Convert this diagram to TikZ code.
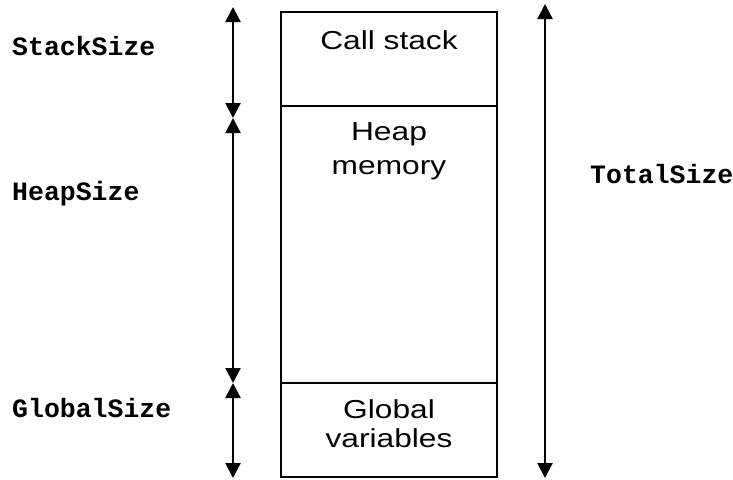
\documentclass[tikz,border=0pt]{standalone}
\usepackage{fontspec}
\newfontfamily\blockfont[FakeStretch=1.22]{Liberation Sans}
\newfontfamily\sizefont{Liberation Mono}
\usetikzlibrary{arrows.meta, positioning}
\tikzset{
    memblock/.style = {rectangle, draw=black, line width=1.5pt, minimum width=216pt, inner sep=0pt, outer sep=0pt},
    blocktext/.style = {anchor=base, align=center, inner sep=0pt, font=\blockfont\fontsize{26}{29}\selectfont},
    sizelabel/.style = {anchor=base west, inner sep=0pt, font=\sizefont\bfseries\fontsize{26.5}{30}\selectfont},
    sizearrow/.style = {line width=2.2pt, {Triangle[width=15pt,length=15pt]}-{Triangle[width=15pt,length=15pt]}}
}
\begin{document}
\begin{tikzpicture}[x=1pt, y=-1pt]
\useasboundingbox (0,0) rectangle (733,479);

% --- memory layout, top to bottom ---
\node (stack) [memblock, minimum height=94pt] at (389,59) {};
\node (heap) [memblock, minimum height=277pt, below=0pt of stack] {};
\node (global) [memblock, minimum height=94pt, below=0pt of heap] {};

% base anchor sits on the last line
\node (stacktxt) [blocktext] at (389,49) {Call stack};
\node (heaptxt) [blocktext] at (389,174) {Heap\\[5pt]memory};
\node (globaltxt) [blocktext] at (389,447) {Global\\variables};

% --- size markers ---
\coordinate (s1) at (233,7);
\coordinate (s2) at (233,118);
\coordinate (s3) at (233,383);
\coordinate (s4) at (233,478);
\coordinate (t1) at (545,4);
\coordinate (t2) at (545,478);

\draw [sizearrow] (s1) -- (s2);
\draw [sizearrow] (s2) -- (s3);
\draw [sizearrow] (s3) -- (s4);
\draw [sizearrow] (t1) -- (t2);

\node (stacksize) [sizelabel] at (12,55) {StackSize};
\node (heapsize) [sizelabel] at (12,200) {HeapSize};
\node (globalsize) [sizelabel] at (12,417) {GlobalSize};
\node (totalsize) [sizelabel] at (590,183) {TotalSize};

\end{tikzpicture}
\end{document}
